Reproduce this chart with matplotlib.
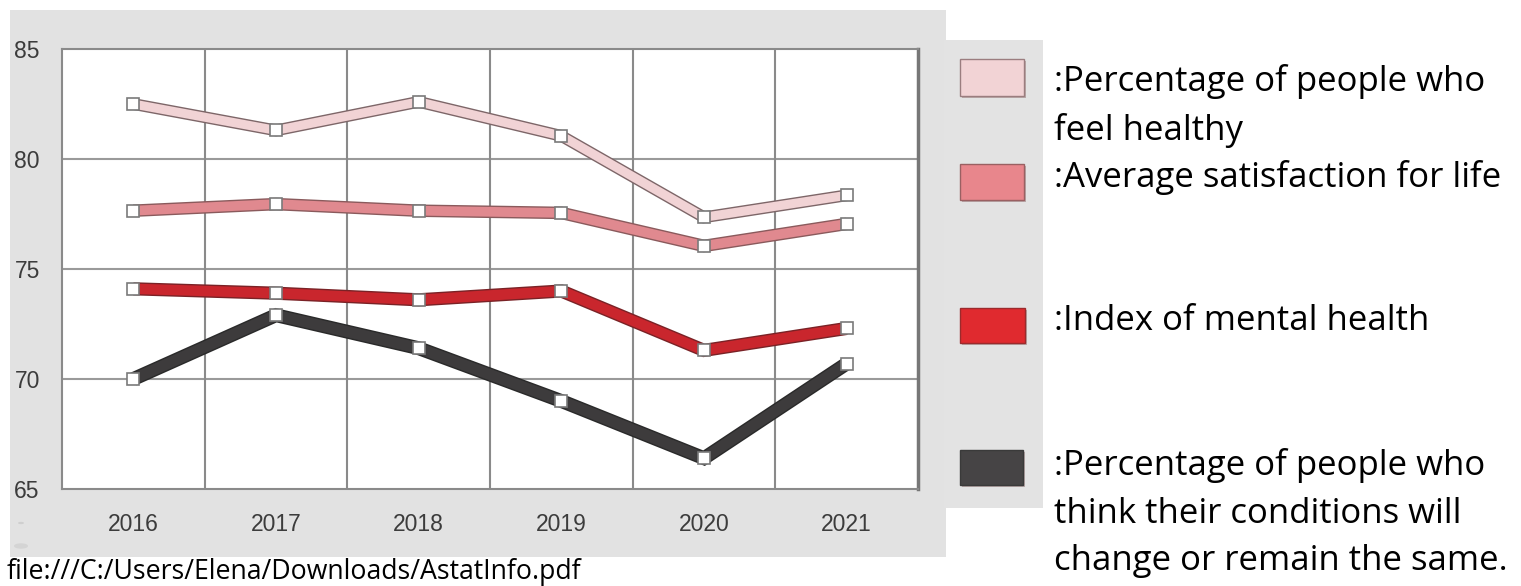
import matplotlib
matplotlib.use("Agg")
import matplotlib.pyplot as plt
import matplotlib.patheffects as pe
from matplotlib.patches import Rectangle, Circle

years = ["2016", "2017", "2018", "2019", "2020", "2021"]
feel_healthy = [82.5, 81.3, 82.6, 81.05, 77.35, 78.35]
life_satisfaction = [77.65, 77.95, 77.65, 77.55, 76.05, 77.05]
mental_health = [74.1, 73.9, 73.6, 74.0, 71.3, 72.3]
conditions_same = [70.0, 72.9, 71.4, 69.0, 66.4, 70.7]
y_ticks = [65, 70, 75, 80, 85]

legend_labels = [
    ":Percentage of people who\nfeel healthy",
    ":Average satisfaction for life",
    ":Index of mental health",
    ":Percentage of people who\nthink their conditions will\nchange or remain the same.",
]

W, H = 1521, 586
fig = plt.figure(figsize=(W / 100, H / 100), dpi=100)
fig.patch.set_facecolor("white")

def fx(px):
    return px / W

def fy(py):
    return 1 - py / H

# gray panels (drawn behind the axes)
fig.patches.append(Rectangle((fx(10), fy(557)), fx(946) - fx(10), fy(10) - fy(557),
                             transform=fig.transFigure, facecolor="#e2e2e2", edgecolor="none", zorder=-5))
fig.patches.append(Rectangle((fx(944), fy(508)), fx(1043) - fx(944), fy(40) - fy(508),
                             transform=fig.transFigure, facecolor="#e3e3e3", edgecolor="none", zorder=-5))
# small decorative dots
fig.patches.append(Circle((fx(21), fy(523)), 3 / W, transform=fig.transFigure,
                          facecolor="#cfcfcf", edgecolor="none", zorder=-4))
fig.patches.append(Circle((fx(21), fy(546)), 7 / W, transform=fig.transFigure,
                          facecolor="#d4d4d4", edgecolor="none", zorder=-4))

ax = fig.add_axes([fx(62), fy(489), fx(918) - fx(62), fy(49) - fy(489)])
ax.set_zorder(2)
ax.set_facecolor("white")
x = list(range(len(years)))

series = [
    (feel_healthy, "#f1d3d5", "#7d6668", 6.5),
    (life_satisfaction, "#e0898f", "#8a5a5c", 7.0),
    (mental_health, "#c9262d", "#7a2226", 7.5),
    (conditions_same, "#3d3b3c", "#2a2a2a", 8.0),
]
for vals, col, edge, lw in series:
    ax.plot(x, vals, color=col, lw=lw, solid_joinstyle="miter", solid_capstyle="butt", zorder=3,
            path_effects=[pe.Stroke(linewidth=lw + 2, foreground=edge, capstyle="butt"), pe.Normal()])
    ax.plot(x, vals, ls="none", marker="s", ms=8.5, mfc="white", mec="#7a7a7a", mew=1.2, zorder=4)

ax.set_xlim(-0.5, 5.5)
ax.set_ylim(65, 85)
ax.set_yticks(y_ticks)
ax.set_xticks(x)
ax.set_xticklabels(years)
ax.grid(False)
for yv in y_ticks[1:-1]:
    ax.axhline(yv, color="#9a9a9a", lw=1.5, zorder=1)
for xm in [i + 0.5 for i in range(5)]:
    ax.axvline(xm, color="#8a8a8a", lw=1.5, zorder=1)

for s in ["top", "left", "bottom"]:
    ax.spines[s].set_color("#8a8a8a")
    ax.spines[s].set_linewidth(1.5)
ax.spines["right"].set_color("#777777")
ax.spines["right"].set_linewidth(2.5)

ax.tick_params(axis="both", length=0, labelcolor="#3c3c3c", labelsize=16.5)
ax.tick_params(axis="y", pad=16)
ax.tick_params(axis="x", pad=17)
for lab in ax.get_xticklabels() + ax.get_yticklabels():
    lab.set_family("Liberation Sans")

# legend swatches
swatches = [
    ((960, 59, 1024, 96), "#f2d3d5", "#9b7d7f"),
    ((960, 164, 1024, 200), "#e8868c", "#9a6062"),
    ((960, 308, 1025, 343), "#e02a2f", "#9c2a2c"),
    ((960, 450, 1023, 485), "#464445", "#3a3a3a"),
]
for (x0, y0, x1, y1), fc, ec in swatches:
    fig.patches.append(Rectangle((fx(x0 + 2), fy(y1 + 2)), fx(x1) - fx(x0), fy(y0) - fy(y1),
                                 transform=fig.transFigure, facecolor="#b9a9a9", edgecolor="none", zorder=1))
    fig.patches.append(Rectangle((fx(x0), fy(y1)), fx(x1) - fx(x0), fy(y0) - fy(y1),
                                 transform=fig.transFigure, facecolor=fc, edgecolor=ec, lw=1.0, zorder=2))

text_pos = [80, 176, 320, 464]
for lab, yc in zip(legend_labels, text_pos):
    fig.text(fx(1054), fy(yc - 16), lab, family="Open Sans", fontsize=25, color="black",
             ha="left", va="top", linespacing=1.52)

fig.text(fx(7), fy(572), "file:///C:/Users/Elena/Downloads/AstatInfo.pdf", family="Open Sans",
         fontsize=19.2, color="black", ha="left", va="center")

fig.savefig("out.png", dpi=100, facecolor="white")
